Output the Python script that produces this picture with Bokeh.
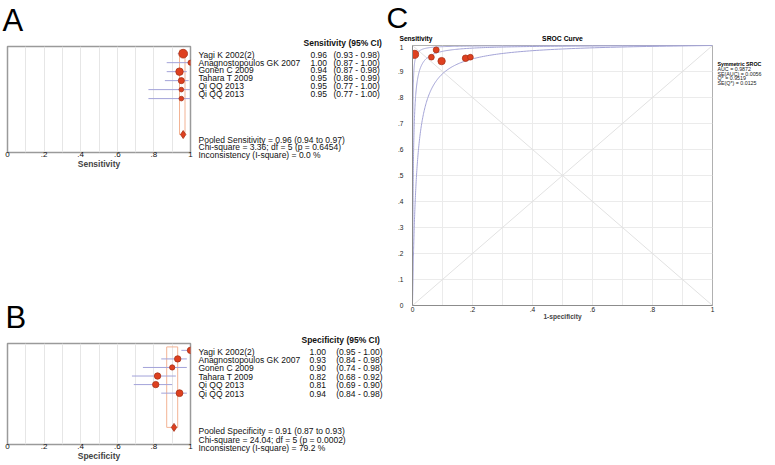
import numpy as np
from bokeh.plotting import figure
from bokeh.layouts import row, column, Spacer
from bokeh.models import Range1d, FixedTicker
from bokeh.core.properties import value
from bokeh.embed import file_html
from bokeh.resources import INLINE

# ---------------- data ----------------
studies = ["Yagi K 2002(2)", "Anagnostopoulos GK 2007", "Gonen C 2009",
           "Tahara T 2009", "Qi QQ 2013", "Qi QQ 2013"]
sens = [0.96, 1.00, 0.94, 0.95, 0.95, 0.95]
sens_lo = [0.93, 0.87, 0.87, 0.86, 0.77, 0.77]
sens_hi = [0.98, 1.00, 0.98, 0.99, 1.00, 1.00]
sens_weight = [31.9, 10.8, 23.6, 15.5, 9.1, 9.1]
pooled_sens = [0.96]
pooled_sens_lo = [0.94]
pooled_sens_hi = [0.97]
sens_stats = ["Pooled Sensitivity = 0.96 (0.94 to 0.97)",
              "Chi-square = 3.36; df =  5 (p = 0.6454)",
              "Inconsistency (I-square) = 0.0 %"]

spec = [1.00, 0.93, 0.90, 0.82, 0.81, 0.94]
spec_lo = [0.95, 0.84, 0.74, 0.68, 0.69, 0.84]
spec_hi = [1.00, 0.98, 0.98, 0.92, 0.90, 0.98]
spec_weight = [17.2, 17.2, 11.6, 17.2, 17.2, 19.5]
pooled_spec = [0.91]
pooled_spec_lo = [0.87]
pooled_spec_hi = [0.93]
spec_stats = ["Pooled Specificity = 0.91 (0.87 to 0.93)",
              "Chi-square = 24.04; df =  5 (p = 0.0002)",
              "Inconsistency (I-square) = 79.2 %"]

# SROC points (1-specificity, sensitivity) as plotted
sroc_fpr = [0.007, 0.079, 0.097, 0.177, 0.193, 0.063]
sroc_tpr = [0.966, 0.983, 0.940, 0.951, 0.955, 0.955]
# symmetric SROC model: logit(TPR) - logit(FPR) = D  (upper, fitted, lower)
sroc_D = [7.6, 5.97, 4.3]
sroc_legend = ["Symmetric SROC", "AUC = 0.9872", "SE(AUC) = 0.0056",
               "Q* = 0.9519", "SE(Q*) = 0.0125"]

forest_ticks = [0, 0.2, 0.4, 0.6, 0.8, 1]
forest_tick_labels = ["0", ".2", ".4", ".6", ".8", "1"]
forest_grid = [0.1, 0.2, 0.3, 0.4, 0.5, 0.6, 0.7, 0.8, 0.9]
sroc_grid = [0, 0.1, 0.2, 0.3, 0.4, 0.5, 0.6, 0.7, 0.8, 0.9, 1]
sroc_yticks = [0, 0.1, 0.2, 0.3, 0.4, 0.5, 0.6, 0.7, 0.8, 0.9, 1]
sroc_ytick_labels = ["0", ".1", ".2", ".3", ".4", ".5", ".6", ".7", ".8", ".9", "1"]
sroc_xticks = [0, 0.2, 0.4, 0.6, 0.8, 1]
sroc_xtick_labels = ["0", ".2", ".4", ".6", ".8", "1"]

# ---------------- styles ----------------
FONT = "Liberation Sans"
RED = "#de4020"
RED_EDGE = "#a83218"
CI_COL = "#a3a3d9"
ORANGE = "#f3b394"
GRID = "#e6e6e6"
POOLED_ROW = 9


def blank(width, height):
    p = figure(width=width, height=height, x_range=Range1d(0, width),
               y_range=Range1d(height, 0), output_backend="svg",
               toolbar_location=None, title=None,
               x_axis_location=None, y_axis_location=None,
               min_border_left=0, min_border_right=0,
               min_border_top=0, min_border_bottom=0)
    p.outline_line_color = None
    p.grid.visible = False
    p.background_fill_color = None
    p.border_fill_color = None
    return p


def forest(vals, lo, hi, weight, pooled, plo, phi, frame_h, top, bottom, label):
    p = figure(width=193, height=top + frame_h + bottom,
               x_range=Range1d(0, 1), y_range=Range1d(11, -0.8),
               output_backend="svg", toolbar_location=None, title=None,
               y_axis_location=None, min_border_left=7, min_border_right=3,
               min_border_top=top, min_border_bottom=bottom)
    p.outline_line_color = "#9a9a9a"
    p.outline_line_width = 1.5
    p.ygrid.visible = False
    p.xgrid.ticker = FixedTicker(ticks=forest_grid)
    p.xgrid.grid_line_color = GRID
    ax = p.xaxis[0]
    ax.ticker = FixedTicker(ticks=forest_ticks)
    ax.major_label_overrides = dict(zip(forest_ticks, forest_tick_labels))
    ax.axis_line_color = None
    ax.major_tick_line_color = None
    ax.minor_tick_line_color = None
    ax.major_tick_out = 0
    ax.major_tick_in = 0
    ax.minor_tick_out = 0
    ax.major_label_standoff = -1
    ax.major_label_text_font = FONT
    ax.major_label_text_font_size = "8px"
    ax.major_label_text_color = "#111111"
    ax.axis_label = label
    ax.axis_label_standoff = -1
    ax.axis_label_text_font = FONT
    ax.axis_label_text_font_size = "8.5px"
    ax.axis_label_text_font_style = "bold"
    rows = list(range(len(vals)))
    p.quad(left=plo, right=phi, top=[-0.4], bottom=[POOLED_ROW],
           fill_color=None, line_color=ORANGE, line_width=1)
    p.segment(x0=lo, y0=rows, x1=hi, y1=rows, line_color=CI_COL, line_width=1)
    sizes = [1.55 * np.sqrt(w) for w in weight]
    p.scatter(x=vals, y=rows, size=sizes, marker="circle", fill_color=RED,
              line_color=RED_EDGE, line_width=0.8)
    p.scatter(x=pooled, y=[POOLED_ROW], size=8, marker="diamond",
              fill_color=RED, line_color=RED_EDGE, line_width=0.8)
    return p


def table(height, header, header_x, header_y, vals, lo, hi, val_x, ci_x,
          row0, row_dy, stats, stats0, stats_dy):
    t = blank(192, height)
    ys = [row0 + i * row_dy for i in range(len(studies))]
    kw = dict(text_font=value(FONT), text_font_size="8.5px",
              text_baseline="middle", text_color="#111111")
    t.text(x=[header_x], y=[header_y], text=[header], text_font_style="bold", **kw)
    t.text(x=[5] * len(studies), y=ys, text=studies, **kw)
    t.text(x=[val_x] * len(vals), y=ys, text=[f"{v:.2f}" for v in vals], **kw)
    t.text(x=[ci_x] * len(vals), y=ys,
           text=[f"({a:.2f} - {b:.2f})" for a, b in zip(lo, hi)], **kw)
    t.text(x=[5] * len(stats), y=[stats0 + i * stats_dy for i in range(len(stats))],
           text=stats, **kw)
    return t


def letter_band(width, height, letter, x, ymid):
    b = blank(width, height)
    b.text(x=[x], y=[ymid], text=[letter], text_font=value(FONT),
           text_font_size="31px", text_baseline="middle", text_color="#000000")
    return b


# ---------------- panel A ----------------
bandA = letter_band(385, 38, "A", 2, 19.5)
forestA = forest(sens, sens_lo, sens_hi, sens_weight, pooled_sens,
                 pooled_sens_lo, pooled_sens_hi, 106, 8, 30, "Sensitivity")
tableA = table(124, "Sensitivity (95% CI)", 110, 4.9, sens, sens_lo, sens_hi,
               117, 140, 16.3, 7.75, sens_stats, 101, 7.7)

# ---------------- panel B ----------------
bandB = letter_band(385, 46, "B", 5, 28.5)
forestB = forest(spec, spec_lo, spec_hi, spec_weight, pooled_spec,
                 pooled_spec_lo, pooled_spec_hi, 101, 9, 21, "Specificity")
tableB = table(131, "Specificity (95% CI)", 108, 5.4, spec, spec_lo, spec_hi,
               116, 142.7, 17, 8.46, spec_stats, 96.7, 8.3)

left = column(bandA, row(forestA, column(tableA)), Spacer(width=385, height=106),
              bandB, row(forestB, column(tableB)))

# ---------------- panel C ----------------
bandC = blank(390, 44)
bandC.text(x=[1], y=[17], text=["C"], text_font=value(FONT), text_font_size="30px",
           text_baseline="middle", text_color="#000000")
bandC.text(x=[14], y=[37.7], text=["Sensitivity"], text_font=value(FONT),
           text_font_size="6.6px", text_font_style="bold", text_baseline="middle")
bandC.text(x=[177], y=[38], text=["SROC Curve"], text_font=value(FONT),
           text_font_size="6.8px", text_font_style="bold", text_baseline="middle",
           text_align="center")

pc = figure(width=331, height=291, x_range=Range1d(0, 1), y_range=Range1d(0, 1),
            output_backend="svg", toolbar_location=None, title=None,
            min_border_left=27, min_border_right=4, min_border_top=1,
            min_border_bottom=30)
pc.outline_line_color = "#b0b0b0"
pc.xgrid.ticker = FixedTicker(ticks=sroc_grid)
pc.ygrid.ticker = FixedTicker(ticks=sroc_grid)
pc.grid.grid_line_color = "#ebebeb"
for ax, ticks, labels in ((pc.xaxis[0], sroc_xticks, sroc_xtick_labels),
                          (pc.yaxis[0], sroc_yticks, sroc_ytick_labels)):
    ax.ticker = FixedTicker(ticks=ticks)
    ax.major_label_overrides = dict(zip(ticks, labels))
    ax.axis_line_color = "#8c8c8c"
    ax.major_tick_line_color = None
    ax.minor_tick_line_color = None
    ax.major_tick_out = 0
    ax.major_tick_in = 0
    ax.minor_tick_out = 0
    ax.major_label_text_font = FONT
    ax.major_label_text_font_size = "6.6px"
    ax.major_label_text_color = "#222222"
pc.yaxis.major_label_standoff = 9
pc.xaxis.major_label_standoff = 1
pc.xaxis.axis_label = "1-specificity"
pc.xaxis.axis_label_standoff = -2
pc.xaxis.axis_label_text_font = FONT
pc.xaxis.axis_label_text_font_size = "6.6px"
pc.xaxis.axis_label_text_font_style = "bold"

pc.line(x=[0, 1], y=[0, 1], line_color="#e2e2e2", line_width=1)
pc.line(x=[0, 1], y=[1, 0], line_color="#e2e2e2", line_width=1)
fpr = np.concatenate([[0.0], np.logspace(-6, np.log10(0.999999), 500)])
for D in sroc_D:
    with np.errstate(divide="ignore"):
        lf = np.log(fpr / (1 - fpr))
    tpr = 1 / (1 + np.exp(-(D + lf)))
    pc.line(x=fpr, y=tpr, line_color="#a3a3d6", line_width=1)
csize = [3 + 0.9 * np.sqrt(w) for w in sens_weight]
pc.scatter(x=sroc_fpr, y=sroc_tpr, size=csize, marker="circle", fill_color=RED,
           line_color=RED_EDGE, line_width=0.8)

legC = blank(59, 120)
leg_y = [19.3 + i * 4.85 for i in range(len(sroc_legend))]
legC.text(x=[1], y=[leg_y[0]], text=[sroc_legend[0]], text_font=value(FONT),
          text_font_size="5.3px", text_font_style="bold", text_baseline="middle")
legC.text(x=[1] * (len(sroc_legend) - 1), y=leg_y[1:], text=sroc_legend[1:],
          text_font=value(FONT), text_font_size="5.3px", text_baseline="middle",
          text_color="#222222")

right = column(bandC, row(pc, column(legC)))

layout = row(left, right)
open("out.html", "w").write(file_html(layout, INLINE))
